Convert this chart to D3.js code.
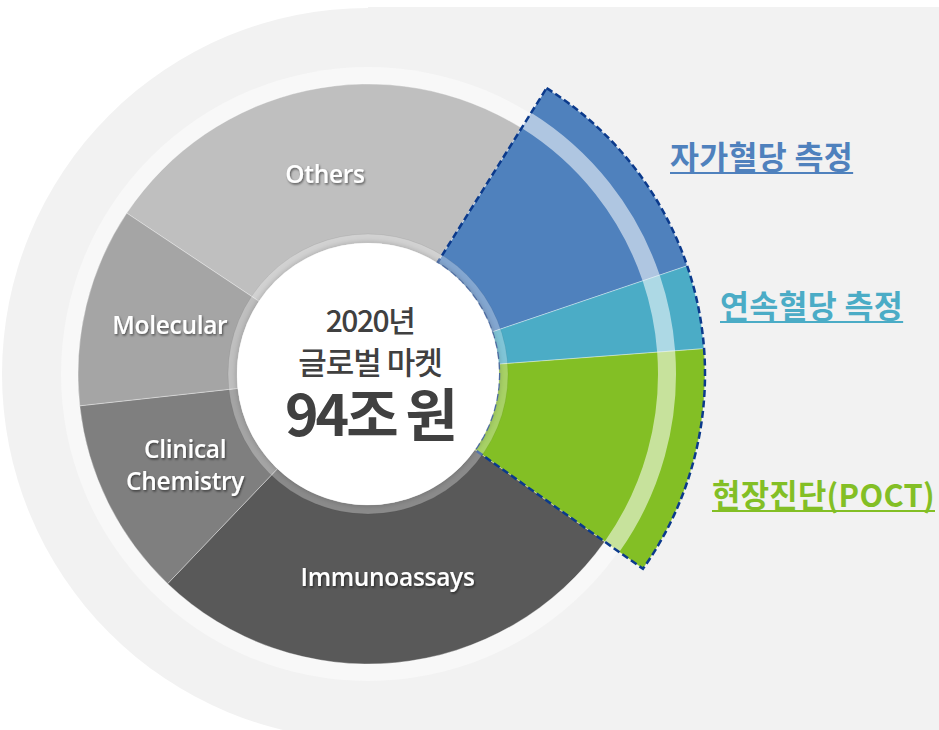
<!DOCTYPE html>
<html>
<head>
<meta charset="utf-8">
<script src="https://cdn.jsdelivr.net/npm/d3@7"></script>
<style>
  body { margin: 0; background: #fff; }
  svg { display: block; }
</style>
</head>
<body>
<svg id="chart" width="939" height="730"></svg>
<script>
// market share of the 2020 global IVD market
var categories = ["Others", "자가혈당 측정", "연속혈당 측정", "현장진단(POCT)", "Immunoassays", "Clinical Chemistry", "Molecular"];
var shares = [24.5, 10.9, 4.0, 11.0, 27.3, 11.1, 11.1];
var highlighted = ["자가혈당 측정", "연속혈당 측정", "현장진단(POCT)"];
var centerLines = ["2020년", "글로벌 마켓", "94조 원"];

var colors = ["#bfbfbf", "#4f81bd", "#4bacc6", "#83bf25", "#595959", "#7f7f7f", "#a5a5a5"];

var svg = d3.select("#chart");
var width = +svg.attr("width");
var height = +svg.attr("height");
var cx = 368, cy = 374;
var rInner = 131, rOuter = 290, rExplode = 337;

var color = d3.scaleOrdinal().domain(categories).range(colors);

var defs = svg.append("defs");
var shadow = defs.append("filter").attr("id", "txtShadow")
  .attr("x", "-20%").attr("y", "-40%").attr("width", "140%").attr("height", "180%");
shadow.append("feDropShadow").attr("dx", 1).attr("dy", 1.5).attr("stdDeviation", 1.2)
  .attr("flood-color", "#000").attr("flood-opacity", 0.55);
var glow = defs.append("filter").attr("id", "circShadow")
  .attr("x", "-20%").attr("y", "-20%").attr("width", "140%").attr("height", "140%");
glow.append("feDropShadow").attr("dx", 0).attr("dy", 0).attr("stdDeviation", 3)
  .attr("flood-color", "#000").attr("flood-opacity", 0.25);

// background shape
svg.append("rect").attr("width", width).attr("height", height).attr("fill", "#fff");
svg.append("circle").attr("cx", cx).attr("cy", cy).attr("r", 366).attr("fill", "#f2f2f2");
svg.append("rect").attr("x", cx).attr("y", 7).attr("width", width - cx).attr("height", height)
  .attr("fill", "#f2f2f2");
svg.append("circle").attr("cx", cx).attr("cy", cy).attr("r", 307).attr("fill", "#f8f8f8");

var a0 = -56.3 * Math.PI / 180;
var pie = d3.pie().sort(null).value(function (d) { return d; })
  .startAngle(a0).endAngle(a0 + 2 * Math.PI);
var arcs = pie(shares).map(function (d, i) { d.name = categories[i]; return d; });

function isHi(d) { return highlighted.indexOf(d.name) >= 0; }

var arc = d3.arc()
  .innerRadius(rInner)
  .outerRadius(function (d) { return isHi(d) ? rExplode : rOuter; });

var g = svg.append("g").attr("transform", "translate(" + cx + "," + cy + ")");

g.selectAll("path.seg")
  .data(arcs)
  .enter().append("path")
  .attr("class", "seg")
  .attr("d", arc)
  .attr("fill", function (d) { return color(d.name); })
  .attr("stroke", "#ffffff")
  .attr("stroke-opacity", 0.35)
  .attr("stroke-width", 1);

// translucent band across the exploded segments
var hiArcs = arcs.filter(isHi);
var band = d3.arc().innerRadius(290).outerRadius(308);
g.selectAll("path.band")
  .data(hiArcs)
  .enter().append("path")
  .attr("class", "band")
  .attr("d", band)
  .attr("fill", "#ffffff")
  .attr("fill-opacity", 0.55);

// dashed outline round the exploded group
var outline = d3.arc().innerRadius(rInner).outerRadius(rExplode)
  .startAngle(hiArcs[0].startAngle).endAngle(hiArcs[hiArcs.length - 1].endAngle);
g.append("path")
  .attr("d", outline())
  .attr("fill", "none")
  .attr("stroke", "#0b3a8c")
  .attr("stroke-width", 2.5)
  .attr("stroke-dasharray", "7,3.5");

// centre ring and circle
g.append("circle").attr("r", 140).attr("fill", "#ffffff").attr("fill-opacity", 0.3)
  .attr("stroke", "#000").attr("stroke-opacity", 0.06);
g.append("circle").attr("r", rInner).attr("fill", "#ffffff").attr("filter", "url(#circShadow)");

// segment labels
var labelArc = d3.arc().innerRadius(204).outerRadius(204);
var plain = arcs.filter(function (d) { return !isHi(d); });
var lbl = g.selectAll("text.seg")
  .data(plain)
  .enter().append("text")
  .attr("class", "seg")
  .attr("transform", function (d) {
    var c = labelArc.centroid(d);
    return "translate(" + c[0] + "," + c[1] + ")";
  })
  .attr("text-anchor", "middle")
  .attr("fill", "#ffffff")
  .attr("font-family", "'Open Sans', 'Noto Sans CJK KR', sans-serif")
  .attr("font-weight", 600)
  .attr("font-size", 24.5)
  .attr("letter-spacing", -0.3)
  .attr("filter", "url(#txtShadow)");
lbl.each(function (d) {
  var words = d.name === "Clinical Chemistry" ? ["Clinical", "Chemistry"] : [d.name];
  var t = d3.select(this);
  words.forEach(function (w, i) {
    t.append("tspan").attr("x", 0)
      .attr("dy", i === 0 ? (words.length > 1 ? "-0.25em" : "0.35em") : "1.3em")
      .text(w);
  });
});

// centre text
var ct = g.append("g").attr("fill", "#404040")
  .attr("font-family", "'Noto Sans CJK KR', sans-serif").attr("text-anchor", "middle");
ct.append("text").attr("x", 2).attr("y", -42).attr("font-size", 30).attr("font-weight", 500)
  .attr("letter-spacing", -1.5).text(centerLines[0]);
ct.append("text").attr("x", 2).attr("y", 0).attr("font-size", 31).attr("font-weight", 500)
  .attr("letter-spacing", -1).text(centerLines[1]);
ct.append("text").attr("x", 2).attr("y", 62).attr("font-size", 57).attr("font-weight", 700)
  .attr("letter-spacing", -3).text(centerLines[2]);

// side labels for the highlighted segments
var sidePos = [[670, 169], [720, 318], [712, 507]];
var side = svg.selectAll("g.side")
  .data(hiArcs)
  .enter().append("g")
  .attr("class", "side")
  .attr("transform", function (d, i) { return "translate(" + sidePos[i][0] + "," + sidePos[i][1] + ")"; });
side.append("text")
  .attr("fill", function (d) { return color(d.name); })
  .attr("font-family", "'Noto Sans CJK KR', sans-serif")
  .attr("font-weight", 700)
  .attr("font-size", 31.5)
  .attr("letter-spacing", 0.3)
  .text(function (d) { return d.name; });
side.each(function (d, i) {
  var s = d3.select(this);
  var t = s.select("text");
  var w = t.node().getComputedTextLength();
  // keep the last label inside the page
  var room = width - 4 - sidePos[i][0];
  if (w > room) { t.attr("textLength", room).attr("lengthAdjust", "spacingAndGlyphs"); w = room; }
  s.append("line").attr("x1", 0).attr("x2", w).attr("y1", 4).attr("y2", 4)
    .attr("stroke", color(d.name)).attr("stroke-width", 2);
});
</script>
</body>
</html>
